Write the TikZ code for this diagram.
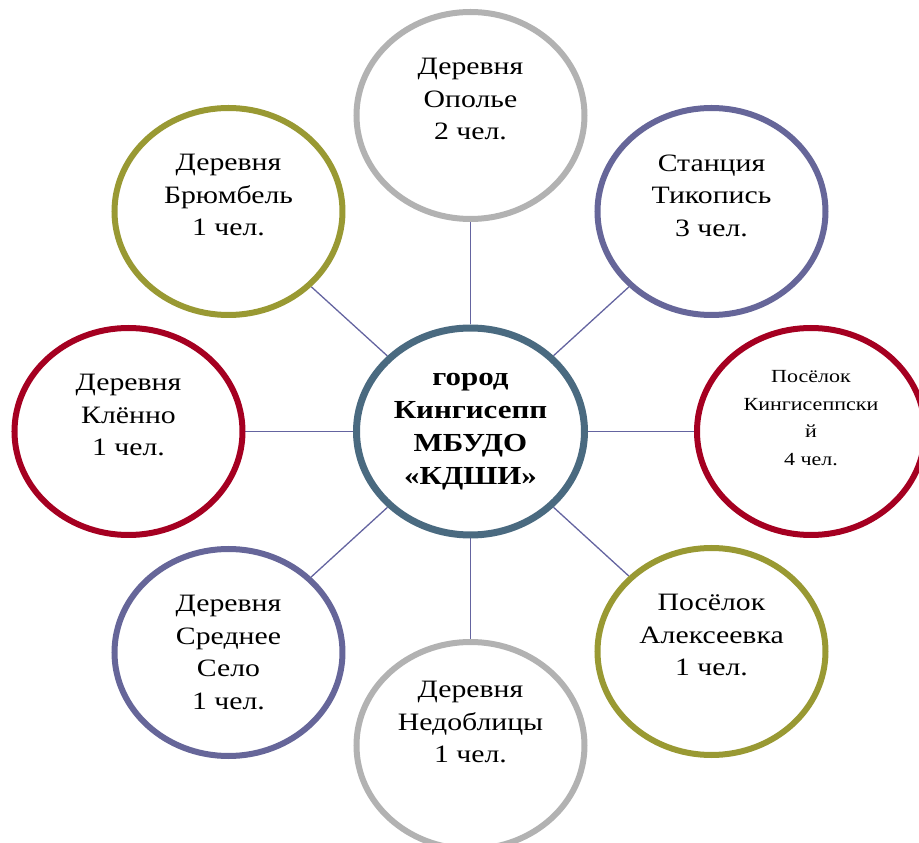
\documentclass[tikz,border=0pt]{standalone}
\usepackage{fontspec}
\setmainfont{Liberation Serif}[FakeStretch=1.19]
\usepackage{xcolor}
\usepackage{tikz}
\usetikzlibrary{shapes, positioning, calc, backgrounds}
\definecolor{ringgray}{RGB}{178,178,178}
\definecolor{ringblue}{RGB}{102,102,153}
\definecolor{ringred}{RGB}{165,0,33}
\definecolor{ringolive}{RGB}{153,153,51}
\definecolor{ringteal}{RGB}{74,106,128}
\definecolor{linkblue}{RGB}{100,100,160}

\begin{document}
\begin{tikzpicture}[
    x = 1pt, y = 1pt, align = center,
    place/.style = {
      ellipse, draw = #1, line width = 6pt, fill = white,
      minimum width = 228pt, minimum height = 207pt, inner sep = 0pt,
      font = \fontsize{25}{32.5}\selectfont
    },
    hub/.style = {
      place = ringteal, line width = 7pt,
      font = \bfseries\fontsize{26}{33}\selectfont
    },
    link/.style = {
      draw = linkblue, line width = 1.3pt
    },
    ]
    \useasboundingbox (-470.5, -411.5) rectangle (448.5, 431.5);

    % draw centre
    \node  [hub]  (hub)  at (0, 0)  {город\\Кингисепп\\МБУДО\\«КДШИ»};

    % draw places
    \foreach \name/\x/\y/\col/\txt in {
        opole/0/316/ringgray/{Деревня\\Ополье\\2 чел.\\~},
        tikopis/241/220/ringblue/{Станция\\Тикопись\\3 чел.\\~},
        alekseevka/241/-220/ringolive/{Посёлок\\Алексеевка\\1 чел.\\~},
        nedoblitsy/0/-314/ringgray/{Деревня\\Недоблицы\\1 чел.\\~\\[-18pt]~},
        srednee/-242/-221/ringblue/{Деревня\\Среднее\\Село\\1 чел.},
        klenno/-342/0/ringred/{Деревня\\Клённо\\1 чел.\\~},
        bryumbel/-242/220/ringolive/{Деревня\\Брюмбель\\1 чел.\\~}}
    \node  [place = \col]  (\name)  at (\x, \y)  {\txt};

    \node  [place = ringred, font = \fontsize{18.5}{27.5}\selectfont]  (kingisepp)  at (340.5, 0)
      {Посёлок\\Кингисеппски\\й\\4 чел.\\~};

    % draw links
    \begin{scope}[on background layer]
    \foreach \name in {opole, tikopis, kingisepp, alekseevka, nedoblitsy, srednee, klenno, bryumbel}
    \draw  [link]  (hub)  --  (\name);
    \end{scope}

\end{tikzpicture}
\end{document}
